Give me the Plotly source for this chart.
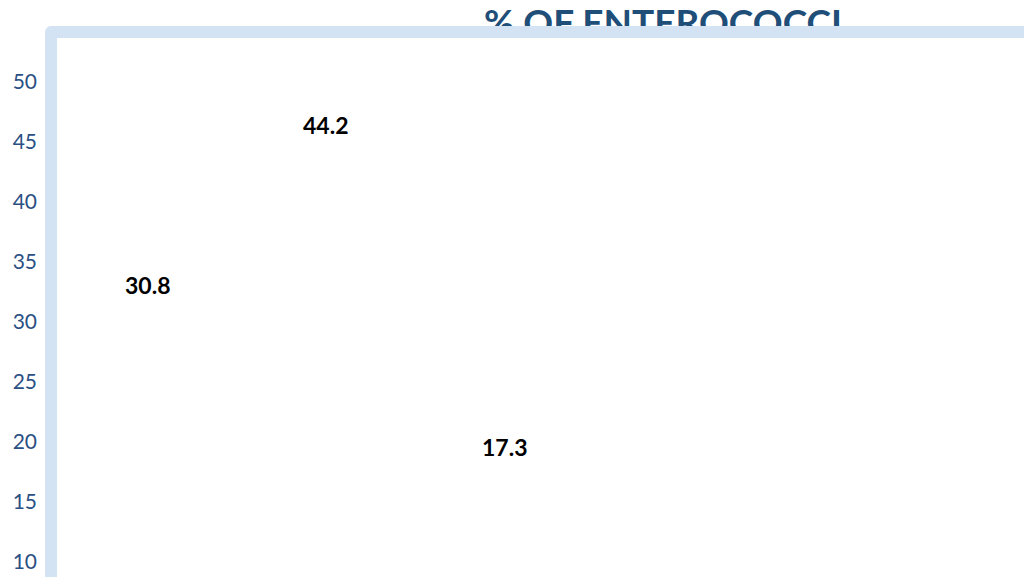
import plotly.graph_objects as go

# ---- data ----
categories = ["Category 1", "Category 2", "Category 3"]
values = [30.8, 44.2, 17.3]
y_ticks = [10, 15, 20, 25, 30, 35, 40, 45, 50]
title_text = "% OF ENTEROCOCCI"

W, H = 1024, 577
BAND = "#D4E3F3"
TICK_COLOR = "#2A5084"
TITLE_COLOR = "#1F4E79"

fig = go.Figure()

# invisible (white) bars, as in the source
fig.add_trace(go.Bar(
    x=categories, y=values, marker=dict(color="white", line=dict(width=0)), width=0.5,
    xaxis="x", yaxis="y", showlegend=False, hoverinfo="skip",
))

# data labels
for c, v in zip(categories, values):
    fig.add_annotation(
        x=c, y=v, xref="x", yref="y", text=f"<b>{v}</b>", showarrow=False,
        yshift=27, font=dict(family="Lato", size=23, color="black"),
    )

# title as text on a pixel overlay so the frame band can cover its lower part
fig.add_trace(go.Scatter(
    x=[663], y=[26.5], mode="text", text=[f"<b>{title_text}</b>"],
    textposition="middle center", cliponaxis=False,
    textfont=dict(family="Lato", size=37, color=TITLE_COLOR),
    xaxis="x2", yaxis="y2", showlegend=False, hoverinfo="skip",
))

# frame band (left and top) with rounded outer corner
fig.add_shape(type="rect", xref="x2", yref="y2", x0=45, x1=57, y0=32, y1=600,
              fillcolor=BAND, line_width=0, layer="above")
fig.add_shape(type="rect", xref="x2", yref="y2", x0=51, x1=1040, y0=26, y1=38,
              fillcolor=BAND, line_width=0, layer="above")
fig.add_shape(type="circle", xref="x2", yref="y2", x0=45, x1=57, y0=26, y1=38,
              fillcolor=BAND, line_width=0, layer="above")

fig.update_layout(
    width=W, height=H,
    margin=dict(l=0, r=0, t=0, b=0),
    paper_bgcolor="white", plot_bgcolor="rgba(0,0,0,0)",
    showlegend=False,
    xaxis=dict(domain=[57 / W, 1], range=[-0.511, 4.921], type="category",
               showticklabels=False, showgrid=False, zeroline=False, showline=False,
               anchor="y"),
    yaxis=dict(domain=[0, 1 - 38 / H], range=[8.75, 53.67],
               tickvals=y_ticks, ticktext=[str(t) for t in y_ticks],
               showgrid=False, zeroline=False, showline=False, ticks="",
               ticklabelstandoff=19, automargin=False,
               tickfont=dict(family="Lato", size=21, color=TICK_COLOR),
               anchor="x"),
    xaxis2=dict(domain=[0, 1], range=[0, W], visible=False, anchor="y2", fixedrange=True),
    yaxis2=dict(domain=[0, 1], range=[H, 0], visible=False, anchor="x2", fixedrange=True),
)

fig.write_html(
    "out.html",
    config={"displayModeBar": False},
    post_script="document.body.style.margin='0';document.body.style.overflow='hidden';",
)
